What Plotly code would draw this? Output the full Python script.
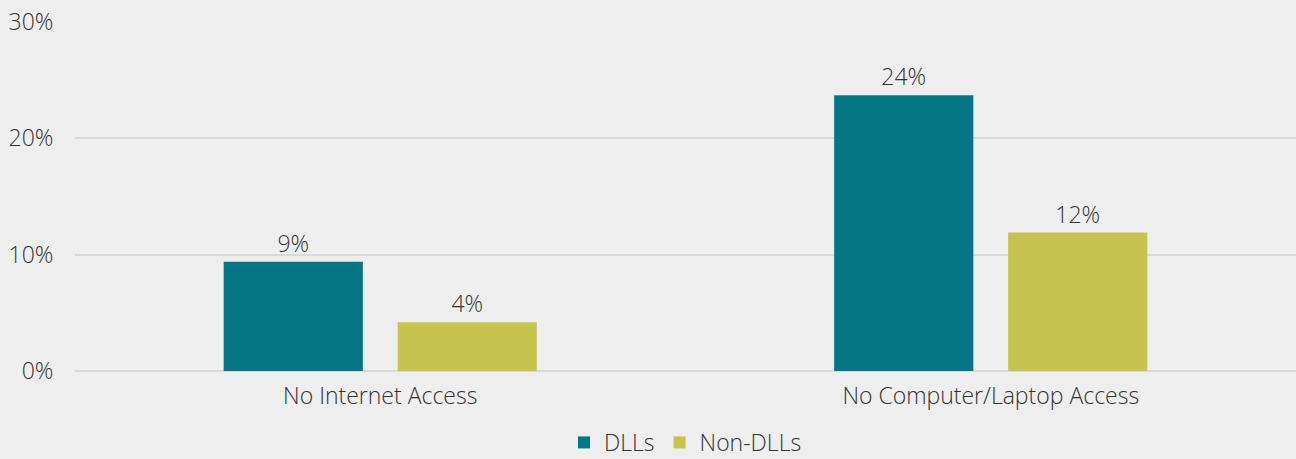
import plotly.graph_objects as go

categories = ["No Internet Access", "No Computer/Laptop Access"]
dlls = [0.094, 0.237]
non_dlls = [0.042, 0.119]
series_names = ["DLLs", "Non-DLLs"]
tick_vals = [0, 0.1, 0.2, 0.3]
tick_text = ["0%", "10%", "20%", "30%"]

font_family = "Open Sans"
text_color = "#333333"
fs = 23
label_tpl = "%{y:.0%}"

fig = go.Figure()
fig.add_trace(go.Bar(
    x=categories, y=dlls, name=series_names[0],
    marker=dict(color="#067686", line=dict(width=0)),
    texttemplate=label_tpl, textposition="outside",
    textfont=dict(size=fs, color=text_color, family=font_family),
    cliponaxis=False,
))
fig.add_trace(go.Bar(
    x=categories, y=non_dlls, name=series_names[1],
    marker=dict(color="#c6c351", line=dict(width=0)),
    texttemplate=label_tpl, textposition="outside",
    textfont=dict(size=fs, color=text_color, family=font_family),
    cliponaxis=False,
))

fig.update_layout(
    width=1296, height=459,
    paper_bgcolor="#eeeeee", plot_bgcolor="#eeeeee",
    margin=dict(l=75, r=0, t=22, b=88, autoexpand=False),
    barmode="group", bargap=0.43, bargroupgap=0.2,
    font=dict(family=font_family, size=fs, color=text_color, weight=300),
    showlegend=True,
    legend=dict(orientation="h", x=0.5, xanchor="center", xref="paper",
                y=0.036, yanchor="middle", yref="container",
                font=dict(size=fs, color=text_color),
                itemwidth=30, tracegroupgap=0, bgcolor="rgba(0,0,0,0)"),
)
fig.update_yaxes(
    range=[0, 0.30], tickvals=tick_vals, ticktext=tick_text,
    showgrid=True, gridcolor="#d9d9d9", gridwidth=1.5,
    zeroline=True, zerolinecolor="#d9d9d9", zerolinewidth=1.5,
    ticks="outside", ticklen=16, tickcolor="rgba(0,0,0,0)",
    tickfont=dict(size=fs, color=text_color),
    showline=False,
)
fig.update_xaxes(
    showgrid=False, showline=False,
    ticks="outside", ticklen=4, tickcolor="rgba(0,0,0,0)",
    tickfont=dict(size=fs, color=text_color),
)

fig.write_html("out.html",
               config={"displayModeBar": False},
               post_script="document.body.style.margin='0';document.body.style.padding='0';document.body.style.background='#eeeeee';")
